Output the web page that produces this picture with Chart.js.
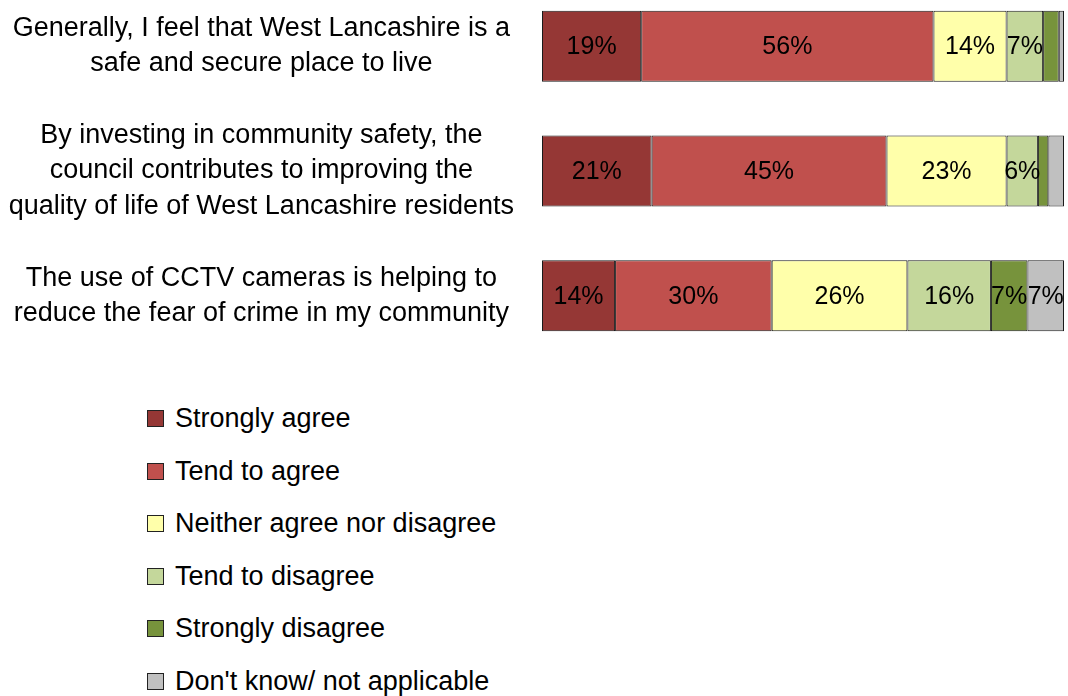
<!DOCTYPE html>
<html>
<head>
<meta charset="utf-8">
<script src="https://cdn.jsdelivr.net/npm/chart.js@4/dist/chart.umd.min.js"></script>
<style>
  body { margin: 0; background: #fff; width: 1068px; height: 696px; overflow: hidden; position: relative; font-family: "Liberation Sans", Arial, sans-serif; }
  #wrap { position: absolute; left: 0; top: -16px; width: 1068px; height: 374px; }
  #legend { position: absolute; left: 147px; top: 410px; }
  .item { height: 17px; margin-bottom: 35.6px; display: flex; align-items: center; font-size: 27px; line-height: 17px; color: #000; }
  .box { width: 15px; height: 15px; border: 1px solid #222; margin-right: 11px; flex: none; }
</style>
</head>
<body>
<div id="wrap"><canvas id="chart" width="1068" height="374"></canvas></div>
<div id="legend"></div>
<script>
const categories = [
  ["Generally, I feel that West Lancashire is a", "safe and secure place to live"],
  ["By investing in community safety, the", "council contributes to improving the", "quality of life of West Lancashire residents"],
  ["The use of CCTV cameras is helping to", "reduce the fear of crime in my community"]
];
const seriesNames = ["Strongly agree", "Tend to agree", "Neither agree nor disagree", "Tend to disagree", "Strongly disagree", "Don't know/ not applicable"];
const seriesColors = ["#953735", "#C0504D", "#FFFFAA", "#C4D79B", "#77933C", "#C0C0C0"];

const stronglyAgree = [19, 21, 14];
const tendToAgree = [56, 45, 30];
const neither = [14, 23, 26];
const tendToDisagree = [7, 6, 16];
const stronglyDisagree = [3, 2, 7];
const dontKnow = [1, 3, 7];

const seriesValues = [stronglyAgree, tendToAgree, neither, tendToDisagree, stronglyDisagree, dontKnow];

const datasets = seriesNames.map((name, i) => ({
  label: name,
  data: seriesValues[i],
  backgroundColor: seriesColors[i],
  borderColor: "#1a1a1a",
  borderWidth: 1,
  borderSkipped: false,
  barPercentage: 1,
  categoryPercentage: 0.57
}));

// percent text in the middle of each segment (small ones left blank)
const segmentLabels = {
  id: "segmentLabels",
  afterDatasetsDraw(chart) {
    const ctx = chart.ctx;
    ctx.save();
    ctx.font = "25px 'Liberation Sans', Arial, sans-serif";
    ctx.fillStyle = "#000";
    ctx.textAlign = "center";
    ctx.textBaseline = "middle";
    chart.data.datasets.forEach((ds, i) => {
      const meta = chart.getDatasetMeta(i);
      meta.data.forEach((bar, j) => {
        const v = ds.data[j];
        if (v < 5) return;
        ctx.fillText(v + "%", (bar.x + bar.base) / 2, bar.y + 1);
      });
    });
    ctx.restore();
  }
};

new Chart(document.getElementById("chart"), {
  type: "bar",
  data: { labels: categories, datasets: datasets },
  options: {
    indexAxis: "y",
    responsive: false,
    animation: false,
    layout: { padding: { right: 4, top: 0, bottom: 0, left: 0 } },
    plugins: { legend: { display: false }, tooltip: { enabled: false } },
    scales: {
      x: { stacked: true, min: 0, max: 100, display: false },
      y: {
        stacked: true,
        grid: { display: false },
        border: { display: false },
        afterFit(scale) {
          scale.width = 542;
          scale.paddingTop = 0;
          scale.paddingBottom = 0;
        },
        ticks: {
          crossAlign: "center",
          padding: 20,
          color: "#000",
          font: { family: "'Liberation Sans', Arial, sans-serif", size: 27, lineHeight: 1.3 }
        }
      }
    }
  },
  plugins: [segmentLabels]
});

// legend list, one entry per row
const legend = document.getElementById("legend");
seriesNames.forEach((name, i) => {
  const row = document.createElement("div");
  row.className = "item";
  const box = document.createElement("span");
  box.className = "box";
  box.style.background = seriesColors[i];
  row.appendChild(box);
  row.appendChild(document.createTextNode(name));
  legend.appendChild(row);
});
</script>
</body>
</html>
